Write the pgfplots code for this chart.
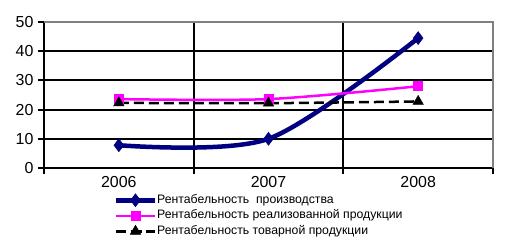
\documentclass[border=0pt]{standalone}
\usepackage{fontspec}
\setmainfont{Liberation Sans}
\usepackage{pgfplots}
\pgfplotsset{compat=1.18}
\definecolor{navy}{HTML}{000080}
\definecolor{mag}{HTML}{FF00FF}
\definecolor{bgray}{HTML}{808080}
\begin{document}
\begin{tikzpicture}
\useasboundingbox (-44bp,-80bp) rectangle (461bp,168bp);
\begin{axis}[
 at={(0,0)}, anchor=south west,
 scale only axis, width=449bp, height=146bp,
 xmin=0.5, xmax=3.5, ymin=0, ymax=50,
 clip=false,
 axis lines*=left,
 axis line style={-, black, line width=2bp},
 xtick={0.5,1.5,2.5,3.5}, xticklabels={},
 extra x ticks={1,2,3}, extra x tick labels={2006,2007,2008},
 extra x tick style={major tick length=0pt, grid=none,
   xticklabel style={yshift=-5bp}},
 ytick={0,10,20,30,40,50},
 tick align=outside, major tick length=6bp,
 tick style={black, line width=2bp},
 grid=major, major grid style={black, line width=2bp},
 ticklabel style={font=\fontsize{16}{18}\selectfont},
 yticklabel style={xshift=-1bp},
 /pgf/number format/assume math mode=true,
 legend style={draw=none, fill=none, at={(0.156,-0.175)}, anchor=north west,
   font=\fontsize{12.3}{14}\selectfont, row sep=2.5bp, inner sep=0pt,
   nodes={inner sep=0.5bp, text height=9bp, text depth=3bp}},
 legend cell align=left,
 legend image code/.code={\draw[mark repeat=2,mark phase=2,#1] plot coordinates {(0bp,0bp)(19bp,0bp)(38bp,0bp)};},
]
\addplot[navy, line width=4.5bp, smooth, mark=diamond*, mark size=6.5bp, mark options={solid, line width=0.5bp}]
 coordinates {(1,7.8) (2,10) (3,44.5)};
\addlegendentry{Рентабельность\ \ производства}
\addplot[mag, line width=2.5bp, smooth, mark=square*, mark size=4.5bp, mark options={solid, line width=0.5bp}]
 coordinates {(1,23.6) (2,23.6) (3,28)};
\addlegendentry{Рентабельность реализованной продукции}
\addplot[black, line width=2.5bp, smooth, dash pattern=on 10bp off 5bp, mark=triangle*, mark size=6bp, mark options={solid, line width=0.5bp}]
 coordinates {(1,22.3) (2,22.2) (3,22.8)};
\addlegendentry{Рентабельность товарной продукции}
\draw[bgray, line width=2bp] (rel axis cs:0,1) -- (rel axis cs:1,1) -- (rel axis cs:1,0);
\end{axis}
\end{tikzpicture}
\end{document}
